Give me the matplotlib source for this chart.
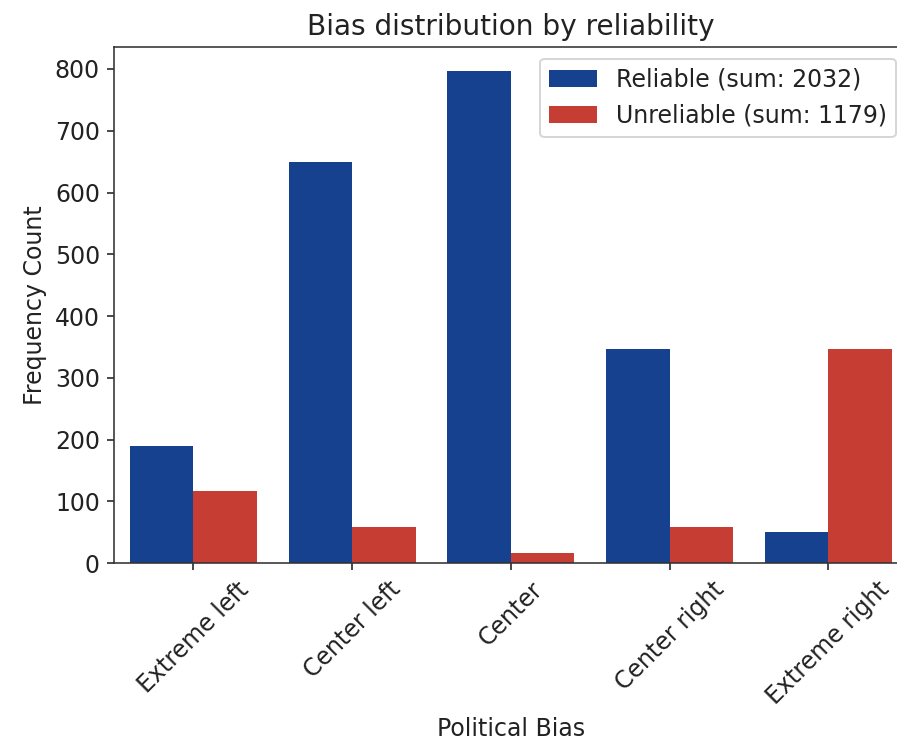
import numpy as np
import matplotlib.pyplot as plt

categories = ['Extreme left', 'Center left', 'Center', 'Center right', 'Extreme right']
reliable = [190, 650, 796, 346, 50]
unreliable = [117, 59, 17, 59, 347]
labels = ['Reliable (sum: 2032)', 'Unreliable (sum: 1179)']
colors = ['#15418f', '#c53d33']

plt.rcParams['font.family'] = 'DejaVu Sans'
plt.rcParams['font.size'] = 11.8
plt.rcParams['text.color'] = '#222222'
plt.rcParams['axes.labelcolor'] = '#222222'
plt.rcParams['xtick.color'] = '#222222'
plt.rcParams['ytick.color'] = '#222222'
plt.rcParams['xtick.labelsize'] = 11.8
plt.rcParams['ytick.labelsize'] = 11.8

fig = plt.figure(figsize=(897 / 144, 742 / 144), dpi=144)
ax = fig.add_axes([0.127, 0.241, 0.885, 0.696])

x = np.arange(len(categories))
w = 0.4
ax.bar(x - w / 2, reliable, width=w, color=colors[0], label=labels[0])
ax.bar(x + w / 2, unreliable, width=w, color=colors[1], label=labels[1])

ax.set_xlim(-0.5, len(categories) - 0.5)
ax.set_ylim(0, 836)
ax.set_xticks(x)
ax.set_xticklabels(categories, rotation=45)
ax.set_yticks(range(0, 801, 100))
ax.set_xlabel('Political Bias')
ax.set_ylabel('Frequency Count')
ax.set_title('Bias distribution by reliability', fontsize=14)
for s in ax.spines.values():
    s.set_color('#333333')
ax.legend(loc='upper right')

fig.savefig('out.png', dpi=144)
